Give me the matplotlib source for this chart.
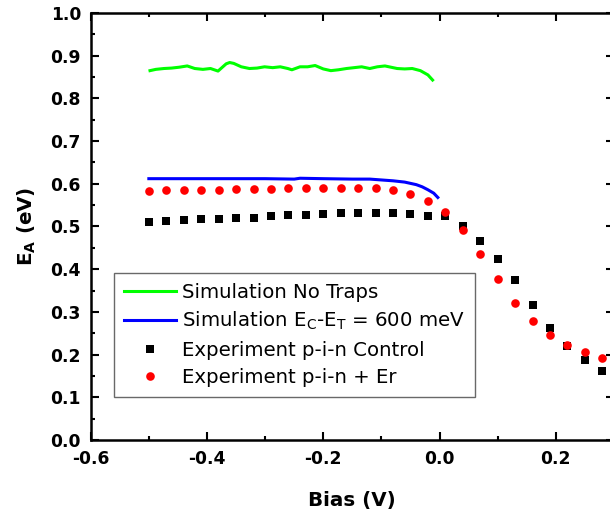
import matplotlib
matplotlib.use("Agg")
import matplotlib.pyplot as plt
from matplotlib.ticker import MultipleLocator

plt.rcParams['font.family'] = ['DejaVu Sans']
plt.rcParams['axes.unicode_minus'] = False
plt.rcParams['mathtext.fontset'] = 'custom'
plt.rcParams['mathtext.rm'] = 'DejaVu Sans'
plt.rcParams['mathtext.bf'] = 'DejaVu Sans:bold'

# ---- data ----
bias_exp = [-0.50, -0.47, -0.44, -0.41, -0.38, -0.35, -0.32, -0.29, -0.26,
            -0.23, -0.20, -0.17, -0.14, -0.11, -0.08, -0.05, -0.02, 0.01,
            0.04, 0.07, 0.10, 0.13, 0.16, 0.19, 0.22, 0.25, 0.28]
ea_control = [0.511, 0.514, 0.515, 0.517, 0.518, 0.521, 0.521, 0.524, 0.526,
              0.528, 0.529, 0.531, 0.532, 0.532, 0.532, 0.529, 0.525, 0.525,
              0.500, 0.467, 0.425, 0.375, 0.317, 0.263, 0.221, 0.187, 0.162]
ea_er = [0.584, 0.585, 0.585, 0.586, 0.586, 0.587, 0.587, 0.588, 0.589,
         0.589, 0.590, 0.590, 0.590, 0.589, 0.586, 0.577, 0.560, 0.535,
         0.492, 0.436, 0.376, 0.322, 0.279, 0.246, 0.222, 0.205, 0.192]

bias_notrap = [-0.498, -0.488, -0.474, -0.461, -0.448, -0.434, -0.421, -0.407,
               -0.394, -0.381, -0.367, -0.361, -0.354, -0.341, -0.327, -0.314,
               -0.301, -0.287, -0.274, -0.261, -0.254, -0.240, -0.227, -0.214,
               -0.200, -0.187, -0.174, -0.160, -0.147, -0.134, -0.120, -0.107,
               -0.094, -0.087, -0.073, -0.060, -0.047, -0.033, -0.020, -0.012]
ea_notrap = [0.865, 0.868, 0.870, 0.871, 0.873, 0.876, 0.870, 0.868,
             0.870, 0.864, 0.881, 0.884, 0.882, 0.874, 0.870, 0.871,
             0.874, 0.872, 0.874, 0.870, 0.867, 0.874, 0.874, 0.877,
             0.869, 0.865, 0.867, 0.870, 0.872, 0.874, 0.870, 0.874,
             0.876, 0.874, 0.870, 0.869, 0.870, 0.865, 0.855, 0.843]

bias_trap = [-0.50, -0.45, -0.40, -0.35, -0.30, -0.25, -0.24, -0.20, -0.15,
             -0.12, -0.10, -0.08, -0.06, -0.04, -0.03, -0.02, -0.01, -0.003]
ea_trap = [0.612, 0.612, 0.612, 0.612, 0.612, 0.611, 0.613, 0.612, 0.611,
           0.611, 0.609, 0.607, 0.604, 0.598, 0.593, 0.586, 0.578, 0.568]

labels = ['Simulation No Traps',
          'Simulation E$_\\mathrm{C}$-E$_\\mathrm{T}$ = 600 meV',
          'Experiment p-i-n Control',
          'Experiment p-i-n + Er']

# ---- figure ----
W, H = 610, 514
fig = plt.figure(figsize=(W / 100, H / 100), dpi=100)
ax = fig.add_axes([90.7 / W, (H - 440) / H, (614 - 90.7) / W, 427 / H])

ax.plot(bias_notrap, ea_notrap, color='#00ff00', lw=2.2, label=labels[0])
ax.plot(bias_trap, ea_trap, color='#0000ff', lw=2.2, label=labels[1])
ax.plot(bias_exp, ea_control, 's', color='black', ms=5.3, mew=0, label=labels[2])
ax.plot(bias_exp, ea_er, 'o', color='#ff0000', ms=6.2, mew=0, label=labels[3])

ax.set_xlim(-0.6, 0.3)
ax.set_ylim(0.0, 1.0)
ax.xaxis.set_major_locator(MultipleLocator(0.2))
ax.xaxis.set_minor_locator(MultipleLocator(0.1))
ax.yaxis.set_major_locator(MultipleLocator(0.1))
ax.yaxis.set_minor_locator(MultipleLocator(0.05))
ax.tick_params(which='both', direction='in', top=True, right=True, width=1.5)
ax.tick_params(which='major', length=5.8, pad=7, labelsize=12.3)
ax.tick_params(which='minor', length=3)
for lbl in ax.get_xticklabels() + ax.get_yticklabels():
    lbl.set_fontweight('bold')
for s in ax.spines.values():
    s.set_linewidth(1.8)

ax.set_xlabel('Bias (V)', fontsize=14.3, fontweight='bold', labelpad=17)
ax.set_ylabel('E$_\\mathbf{A}$ (eV)', fontsize=14.3, fontweight='bold', labelpad=9)

leg = ax.legend(loc='upper left', bbox_to_anchor=(114 / W, 1 - 273 / H),
                bbox_transform=fig.transFigure, borderaxespad=0,
                prop={'family': 'DejaVu Sans', 'size': 14.2},
                frameon=True, fancybox=False, edgecolor='#444444',
                handlelength=2.65, handletextpad=0.3, borderpad=0.5,
                labelspacing=0.42)
leg.get_frame().set_linewidth(1.0)

fig.savefig('out.png', dpi=100)
